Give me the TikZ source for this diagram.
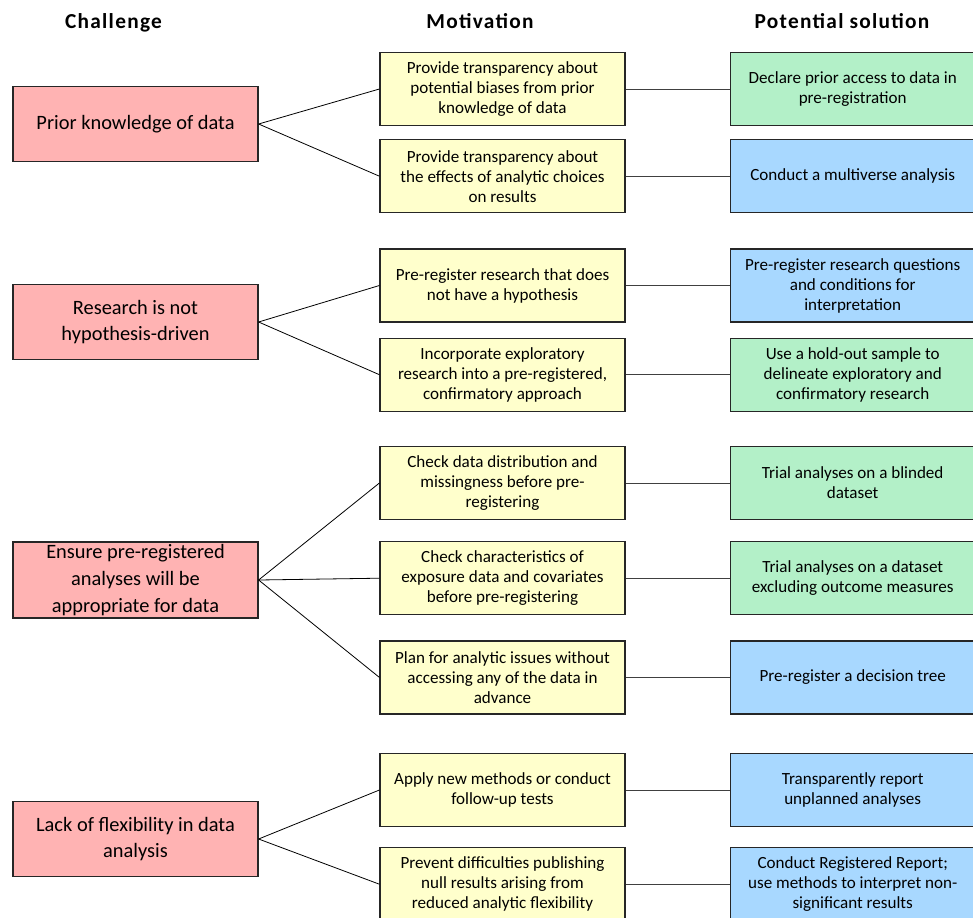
\documentclass[tikz,border=0pt]{standalone}
\usepackage{fontspec}
\setmainfont{Carlito}
\newfontfamily\headfont[LetterSpace=6]{Carlito}
\usepackage{xcolor}
\usepackage{tikz}
\usetikzlibrary{positioning}

\definecolor{challengered}{HTML}{FFB3B3}
\definecolor{motiveyellow}{HTML}{FFFFCC}
\definecolor{solutiongreen}{HTML}{B3F0C8}
\definecolor{solutionblue}{HTML}{A8D8FF}

\begin{document}
\begin{tikzpicture}[
    x=0.75pt, y=0.75pt,
    node distance=78pt,
    head/.style={anchor=base, font=\headfont\bfseries\fontsize{16}{18}\selectfont},
    box/.style={rectangle, draw=black!85, line width=0.9pt, text centered, align=center, inner sep=2pt, minimum width=183.75pt},
    challenge/.style={box, fill=challengered, minimum height=56.25pt, font=\fontsize{15.3}{20}\selectfont},
    motive/.style={box, fill=motiveyellow, minimum height=54.75pt, font=\fontsize{12.8}{15}\selectfont},
    solgreen/.style={motive, fill=solutiongreen},
    solblue/.style={motive, fill=solutionblue},
    link/.style={line width=0.6pt, black},
    solink/.style={line width=0.7pt, black!75}
]
    \useasboundingbox (0,0) rectangle (973,-917);

    \node[head] (hchal) at (113.5,-29) {Challenge};
    \node[head] (hmot) at (480,-29) {Motivation};
    \node[head] (hsol) at (842,-29) {Potential solution};

    \node[challenge] (prior) at (135.5,-124) {Prior knowledge of data};
    \node[challenge] (nohyp) at (135.5,-322) {Research is not\\hypothesis-driven};
    \node[challenge] (ensure) at (135.5,-580) {Ensure pre-registered\\analyses will be\\appropriate for data};
    \node[challenge] (flex) at (135.5,-839) {Lack of flexibility in data\\analysis};

    \node[motive] (biases) at (502.5,-89) {Provide transparency about\\potential biases from prior\\knowledge of data};
    \node[motive, below=9.75pt of biases] (choices) {Provide transparency about\\the effects of analytic choices\\on results};
    \node[motive] (nohypreg) at (502.5,-285.5) {Pre-register research that does\\not have a hypothesis};
    \node[motive, below=11.25pt of nohypreg] (explor) {Incorporate exploratory\\research into a pre-registered,\\confirmatory approach};
    \node[motive] (distrib) at (502.5,-483) {Check data distribution and\\missingness before pre-\\registering};
    \node[motive, below=15.75pt of distrib] (charact) {Check characteristics of\\exposure data and covariates\\before pre-registering};
    \node[motive, below=18.75pt of charact] (plan) {Plan for analytic issues without\\accessing any of the data in\\advance};
    \node[motive] (newmeth) at (502.5,-790) {Apply new methods or conduct\\follow-up tests};
    \node[motive, below=15pt of newmeth] (nullres) {Prevent difficulties publishing\\null results arising from\\reduced analytic flexibility};

    \node[solgreen, right=of biases] (declare) {Declare prior access to data in\\pre-registration};
    \node[solblue, right=of choices] (multiverse) {Conduct a multiverse analysis};
    \node[solblue, right=of nohypreg] (questions) {Pre-register research questions\\and conditions for\\interpretation};
    \node[solgreen, right=of explor] (holdout) {Use a hold-out sample to\\delineate exploratory and\\confirmatory research};
    \node[solgreen, right=of distrib] (blinded) {Trial analyses on a blinded\\dataset};
    \node[solgreen, right=of charact] (excluding) {Trial analyses on a dataset\\excluding outcome measures};
    \node[solblue, right=of plan] (tree) {Pre-register a decision tree};
    \node[solblue, right=of newmeth] (unplanned) {Transparently report\\unplanned analyses};
    \node[solblue, right=of nullres] (registered) {Conduct Registered Report;\\use methods to interpret non-\\significant results};

    \draw[link] (prior.east) -- (biases.west);
    \draw[link] (prior.east) -- (choices.west);
    \draw[link] (nohyp.east) -- (nohypreg.west);
    \draw[link] (nohyp.east) -- (explor.west);
    \draw[link] (ensure.east) -- (distrib.west);
    \draw[link] (ensure.east) -- (charact.west);
    \draw[link] (ensure.east) -- (plan.west);
    \draw[link] (flex.east) -- (newmeth.west);
    \draw[link] (flex.east) -- (nullres.west);

    \draw[solink] (biases) -- (declare);
    \draw[solink] (choices) -- (multiverse);
    \draw[solink] (nohypreg) -- (questions);
    \draw[solink] (explor) -- (holdout);
    \draw[solink] (distrib) -- (blinded);
    \draw[solink] (charact) -- (excluding);
    \draw[solink] (plan) -- (tree);
    \draw[solink] (newmeth) -- (unplanned);
    \draw[solink] (nullres) -- (registered);
\end{tikzpicture}
\end{document}
